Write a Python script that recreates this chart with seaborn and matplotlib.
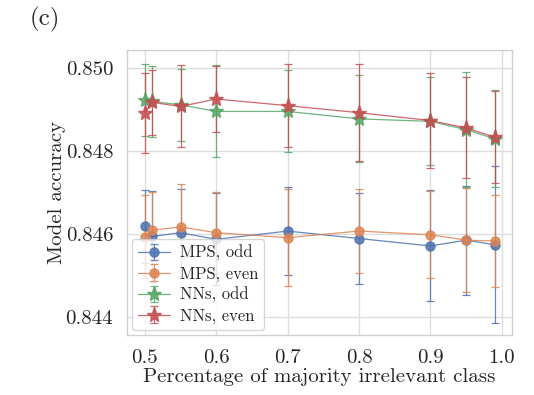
import matplotlib
matplotlib.use("Agg")
import matplotlib.pyplot as plt
import seaborn as sns
import numpy as np

# Fraction of the majority irrelevant class
frac = [0.50, 0.51, 0.55, 0.60, 0.70, 0.80, 0.90, 0.95, 0.99]

# Mean accuracy and standard deviation per model / parity
mps_odd = [0.84619, 0.84594, 0.84603, 0.84587, 0.84607, 0.84589, 0.84571, 0.84585, 0.84574]
mps_odd_err = [0.00088, 0.00110, 0.00106, 0.00111, 0.00107, 0.00111, 0.00134, 0.00132, 0.00189]
mps_even = [0.84593, 0.84609, 0.84617, 0.84603, 0.84591, 0.84607, 0.84598, 0.84585, 0.84583]
mps_even_err = [0.00100, 0.00093, 0.00103, 0.00098, 0.00117, 0.00102, 0.00105, 0.00125, 0.00111]
nns_odd = [0.84924, 0.84920, 0.84912, 0.84896, 0.84896, 0.84878, 0.84872, 0.84852, 0.84830]
nns_odd_err = [0.00087, 0.00085, 0.00087, 0.00111, 0.00099, 0.00105, 0.00106, 0.00139, 0.00117]
nns_even = [0.84893, 0.84918, 0.84908, 0.84926, 0.84910, 0.84893, 0.84874, 0.84856, 0.84834]
nns_even_err = [0.00097, 0.00079, 0.00099, 0.00080, 0.00101, 0.00117, 0.00115, 0.00122, 0.00111]

labels = ["MPS, odd", "MPS, even", "NNs, odd", "NNs, even"]
xticks = [0.5, 0.6, 0.7, 0.8, 0.9, 1.0]
yticks = [0.844, 0.846, 0.848, 0.850]

sns.set_theme(style="whitegrid", palette="deep")
plt.rcParams["font.family"] = ["cmr10", "DejaVu Serif"]
plt.rcParams["mathtext.fontset"] = "cm"
plt.rcParams["axes.formatter.use_mathtext"] = True
plt.rcParams["axes.unicode_minus"] = False

colors = sns.color_palette("deep", 4)
series = [
    (mps_odd, mps_odd_err, "o", 6.5),
    (mps_even, mps_even_err, "o", 6.5),
    (nns_odd, nns_odd_err, "*", 11),
    (nns_even, nns_even_err, "*", 11),
]

fig = plt.figure(figsize=(5.34, 3.95), dpi=100)
ax = fig.add_axes([0.238, 0.152, 0.720, 0.721])

for (vals, errs, mk, ms), lab, col in zip(series, labels, colors):
    ax.errorbar(frac, vals, yerr=errs, fmt=mk + "-", color=col, ms=ms,
                lw=0.9, elinewidth=0.9, capsize=3, capthick=0.9,
                alpha=0.85, label=lab)

ax.set_xlim(0.4752, 1.0136)
ax.set_ylim(0.84356, 0.85044)
ax.set_xticks(xticks)
ax.set_yticks(yticks)
ax.set_xticklabels([f"{t:.1f}" for t in xticks])
ax.set_yticklabels([f"{t:.3f}" for t in yticks])
ax.tick_params(axis="both", labelsize=15, pad=4)
ax.set_xlabel("Percentage of majority irrelevant class", fontsize=15, labelpad=1)
ax.set_ylabel("Model accuracy", fontsize=15, labelpad=0)
ax.grid(color="#dddddd", lw=1.0)
for s in ax.spines.values():
    s.set_color("#d0d0d0")
    s.set_linewidth(1.0)

ax.legend(loc="lower left", fontsize=12, frameon=True, borderpad=0.35,
          labelspacing=0.3, handlelength=1.9, handletextpad=0.6,
          borderaxespad=0.3)

fig.text(0.055, 0.935, "(c)", fontsize=18)

fig.savefig("out.png", dpi=100)
